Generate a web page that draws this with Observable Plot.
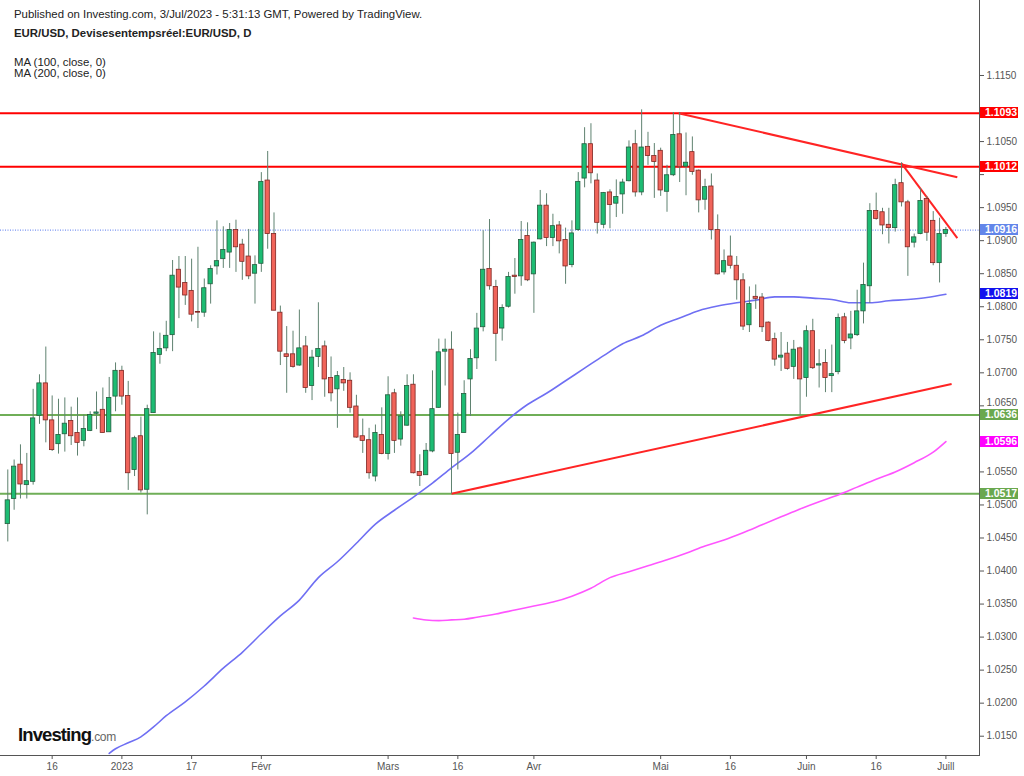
<!DOCTYPE html>
<html><head><meta charset="utf-8">
<script src="https://cdn.jsdelivr.net/npm/d3@7"></script>
<script src="https://cdn.jsdelivr.net/npm/@observablehq/plot@0.6"></script>
<style>
body{margin:0;background:#fff;font-family:"Liberation Sans",Arial,sans-serif;}
#wrap{position:relative;width:1024px;height:776px;overflow:hidden;background:#fff;}
#chart svg{display:block;}
.hdr{position:absolute;left:14px;color:#222;font-size:11.4px;white-space:nowrap;line-height:11px;}
.box{position:absolute;left:980px;width:38px;height:11px;line-height:11px;font-size:10.5px;font-weight:bold;color:#fff;padding-left:5px;box-sizing:border-box;}
#logo{position:absolute;left:18px;top:724px;font-size:18.5px;font-weight:bold;color:#111;letter-spacing:-0.9px;}
#logo span{font-size:12px;font-weight:normal;color:#666;letter-spacing:-0.3px;}
</style></head><body>
<div id="wrap">
<div id="chart"></div>
<div class="hdr" style="top:9px">Published on Investing.com, 3/Jul/2023 - 5:31:13 GMT, Powered by TradingView.</div>
<div class="hdr" style="top:28px;font-weight:bold">EUR/USD, Devisesentempsréel:EUR/USD, D</div>
<div class="hdr" style="top:57px">MA (100, close, 0)</div>
<div class="hdr" style="top:68px">MA (200, close, 0)</div>
<div id="logo">Investing<span>.com</span></div>
</div>
<script>
// ---- data (daily candles, first bar 7 Dec 2022) ----
const startDate = "2022-12-07";
const open  = [1.0471,1.0509,1.0561,1.0530,1.0535,1.0635,1.0684,1.0628,1.0592,1.0607,1.0627,1.0609,1.0597,1.0612,1.0638,1.0644,1.0610,1.0664,1.0703,1.0665,1.0553,1.0604,1.0523,1.0639,1.0727,1.0737,1.0757,1.0856,1.0836,1.0824,1.0792,1.0791,1.0834,1.0861,1.0872,1.0882,1.0916,1.0894,1.0876,1.0850,1.0865,1.0991,1.0910,1.0791,1.0728,1.0728,1.0711,1.0740,1.0680,1.0724,1.0740,1.0692,1.0675,1.0689,1.0688,1.0649,1.0604,1.0598,1.0543,1.0606,1.0577,1.0669,1.0599,1.0620,1.0682,1.0550,1.0545,1.0581,1.0647,1.0732,1.0735,1.0579,1.0609,1.0690,1.0722,1.0769,1.0857,1.0830,1.0767,1.0800,1.0847,1.0846,1.0907,1.0849,1.0902,1.0953,1.0904,1.0923,1.0901,1.0863,1.0916,1.0994,1.1046,1.0991,1.0924,1.0973,1.0956,1.0970,1.0990,1.1046,1.0973,1.1042,1.1028,1.1036,1.0974,1.0999,1.1061,1.1012,1.1034,1.1006,1.0962,1.0982,1.0916,1.0852,1.0876,1.0862,1.0840,1.0772,1.0815,1.0814,1.0776,1.0751,1.0723,1.0729,1.0709,1.0737,1.0692,1.0763,1.0711,1.0715,1.0695,1.0701,1.0784,1.0752,1.0757,1.0793,1.0831,1.0945,1.0943,1.0924,1.0919,1.0987,1.0958,1.0897,1.0910,1.0963,1.0930,1.0866,1.0910];
const high  = [1.0553,1.0568,1.0591,1.0578,1.0675,1.0697,1.0739,1.0665,1.0660,1.0662,1.0648,1.0662,1.0636,1.0641,1.0671,1.0677,1.0693,1.0715,1.0710,1.0687,1.0604,1.0633,1.0651,1.0762,1.0760,1.0778,1.0870,1.0876,1.0876,1.0872,1.0890,1.0842,1.0862,1.0930,1.0921,1.0926,1.0931,1.0902,1.0917,1.0877,1.1003,1.1035,1.0942,1.0801,1.0770,1.0763,1.0795,1.0755,1.0734,1.0806,1.0748,1.0724,1.0702,1.0708,1.0700,1.0666,1.0630,1.0616,1.0621,1.0647,1.0694,1.0675,1.0641,1.0697,1.0697,1.0576,1.0593,1.0703,1.0751,1.0751,1.0762,1.0639,1.0688,1.0735,1.0790,1.0915,1.0932,1.0840,1.0803,1.0852,1.0873,1.0929,1.0927,1.0898,1.0976,1.0971,1.0940,1.0929,1.0919,1.0930,1.1003,1.1071,1.1077,1.1001,1.0973,1.0977,1.0992,1.0993,1.1051,1.1067,1.1098,1.1064,1.1047,1.1040,1.1014,1.1094,1.1094,1.1063,1.1057,1.1007,1.0993,1.1001,1.0939,1.0886,1.0907,1.0876,1.0850,1.0830,1.0833,1.0820,1.0777,1.0760,1.0761,1.0746,1.0749,1.0739,1.0771,1.0781,1.0735,1.0735,1.0742,1.0789,1.0790,1.0793,1.0825,1.0866,1.0956,1.0972,1.0949,1.0949,1.0993,1.1018,1.0961,1.0910,1.0979,1.0967,1.0944,1.0934,1.0920];
const low   = [1.0444,1.0492,1.0509,1.0509,1.0530,1.0622,1.0594,1.0581,1.0577,1.0580,1.0590,1.0574,1.0588,1.0611,1.0614,1.0609,1.0610,1.0641,1.0651,1.0522,1.0543,1.0518,1.0485,1.0639,1.0713,1.0732,1.0732,1.0782,1.0802,1.0777,1.0767,1.0784,1.0804,1.0848,1.0858,1.0858,1.0852,1.0840,1.0841,1.0804,1.0852,1.0887,1.0794,1.0711,1.0669,1.0707,1.0710,1.0669,1.0658,1.0708,1.0663,1.0656,1.0616,1.0672,1.0639,1.0601,1.0578,1.0539,1.0535,1.0576,1.0568,1.0578,1.0589,1.0619,1.0547,1.0528,1.0545,1.0579,1.0646,1.0680,1.0517,1.0553,1.0609,1.0634,1.0705,1.0762,1.0825,1.0717,1.0748,1.0798,1.0819,1.0831,1.0838,1.0790,1.0901,1.0891,1.0891,1.0880,1.0834,1.0859,1.0914,1.0980,1.0986,1.0910,1.0918,1.0918,1.0935,1.0940,1.0989,1.0966,1.0968,1.1014,1.0964,1.0967,1.0943,1.0997,1.0988,1.0968,1.0999,1.0942,1.0946,1.0901,1.0848,1.0848,1.0857,1.0810,1.0764,1.0761,1.0796,1.0761,1.0747,1.0710,1.0702,1.0704,1.0690,1.0636,1.0663,1.0705,1.0677,1.0670,1.0670,1.0697,1.0744,1.0735,1.0755,1.0774,1.0805,1.0931,1.0909,1.0895,1.0913,1.0951,1.0846,1.0889,1.0909,1.0899,1.0862,1.0836,1.0905];
const close = [1.0507,1.0558,1.0531,1.0536,1.0631,1.0684,1.0628,1.0583,1.0606,1.0623,1.0604,1.0594,1.0615,1.0636,1.0640,1.0609,1.0662,1.0703,1.0664,1.0548,1.0601,1.0522,1.0645,1.0730,1.0736,1.0756,1.0847,1.0829,1.0817,1.0788,1.0791,1.0828,1.0857,1.0869,1.0886,1.0916,1.0890,1.0868,1.0846,1.0863,1.0989,1.0910,1.0794,1.0732,1.0724,1.0709,1.0737,1.0677,1.0723,1.0736,1.0690,1.0669,1.0695,1.0684,1.0647,1.0602,1.0597,1.0548,1.0609,1.0577,1.0666,1.0597,1.0634,1.0680,1.0548,1.0544,1.0582,1.0645,1.0731,1.0735,1.0577,1.0606,1.0668,1.0721,1.0767,1.0856,1.0831,1.0759,1.0798,1.0845,1.0845,1.0901,1.0840,1.0897,1.0953,1.0904,1.0922,1.0899,1.0861,1.0911,1.0989,1.1046,1.1002,1.0927,1.0972,1.0954,1.0966,1.0988,1.1041,1.0973,1.1041,1.1028,1.1019,1.0976,1.0999,1.1060,1.1011,1.1018,1.1004,1.0961,1.0981,1.0916,1.0849,1.0869,1.0862,1.0840,1.0770,1.0804,1.0812,1.0769,1.0748,1.0720,1.0726,1.0706,1.0735,1.0690,1.0763,1.0707,1.0713,1.0692,1.0698,1.0783,1.0748,1.0758,1.0793,1.0833,1.0945,1.0933,1.0923,1.0919,1.0984,1.0958,1.0890,1.0905,1.0960,1.0912,1.0866,1.0910,1.0916];

// moving averages (bar index, value)
const ma100Idx = [16,17,19,21,23,25,28,31,34,37,40,43,46,49,52,55,58,61,64,67,70,73,76,79,82,85,88,91,94,97,100,103,106,109,112,115,118,121,124,127,130,133,136,139,142,145,148];
const ma100Val = [1.0124,1.0131,1.0140,1.0149,1.0164,1.0181,1.0202,1.0226,1.0253,1.0277,1.0305,1.0332,1.0356,1.0390,1.0414,1.0442,1.0471,1.0492,1.0512,1.0533,1.0556,1.0578,1.0604,1.0630,1.0652,1.0669,1.0688,1.0707,1.0726,1.0744,1.0756,1.0772,1.0783,1.0794,1.0801,1.0806,1.0810,1.0815,1.0815,1.0813,1.0811,1.0806,1.0806,1.0809,1.0811,1.0814,1.0819];
const ma200Idx = [64,66,68,70,72,74,77,80,83,86,89,92,95,98,101,104,107,110,113,116,119,122,125,128,131,134,137,140,143,146,148];
const ma200Val = [1.0329,1.0326,1.0325,1.0326,1.0327,1.0330,1.0335,1.0341,1.0347,1.0353,1.0362,1.0374,1.0390,1.0399,1.0408,1.0417,1.0427,1.0438,1.0447,1.0458,1.0470,1.0482,1.0494,1.0505,1.0515,1.0527,1.0539,1.0550,1.0564,1.0580,1.0596];

// horizontal levels & trend lines
const levelVals   = [1.1093, 1.1012, 1.0636, 1.0517];
const levelColors = ["#ff0000", "#ff0000", "#6fae57", "#6fae57"];
const trendFromIdx = [105.8, 141.0, 70.0];
const trendFromVal = [1.1093, 1.1017, 1.0517];
const trendToIdx   = [149.8, 149.8, 148.9];
const trendToVal   = [1.0996, 1.0904, 1.0683];

// axis ticks
const tickDates  = ["2022-12-16","2023-01-02","2023-01-17","2023-02-01","2023-03-01","2023-03-16","2023-04-03","2023-05-01","2023-05-16","2023-06-01","2023-06-16","2023-07-03"];
const tickLabels = ["16","2023","17","Févr","Mars","16","Avr","Mai","16","Juin","16","Juill"];
const yTickVals = [1.0150,1.0200,1.0250,1.0300,1.0350,1.0400,1.0450,1.0500,1.0550,1.0600,1.0650,1.0700,1.0750,1.0800,1.0850,1.0900,1.0950,1.1000,1.1050,1.1100,1.1150];
const yHidden = [1.1100, 1.1000, 1.0600];   // covered by the price labels
const yRaised = [1.0650];                  // drawn slightly higher, above the 1.0636 label

// ---- build ----
const dates = [];
{
  let d = new Date(startDate + "T00:00:00Z");
  while (dates.length < open.length) {
    const wd = d.getUTCDay();
    if (wd !== 0 && wd !== 6) dates.push(d.toISOString().slice(0,10));
    d = new Date(d.getTime() + 86400000);
  }
}
const tickIdx = tickDates.map(t => dates.indexOf(t));
const labelOf = new Map(tickIdx.map((k, j) => [k, tickLabels[j]]));
const isIn = (arr, v) => arr.some(h => Math.abs(h - v) < 1e-6);

const candles = open.map((o, i) => ({i, o, h: high[i], l: low[i], c: close[i], up: close[i] >= o}));
const ma100 = ma100Idx.map((k, j) => ({i: k, v: ma100Val[j]}));
const ma200 = ma200Idx.map((k, j) => ({i: k, v: ma200Val[j]}));
const levels = levelVals.map((v, j) => ({v, color: levelColors[j]}));
const trends = trendFromIdx.map((k, j) => ({x1: k, y1: trendFromVal[j], x2: trendToIdx[j], y2: trendToVal[j]}));
const last = close[close.length - 1];

const plot = Plot.plot({
  width: 1024, height: 776,
  marginTop: 0, marginLeft: 0, marginRight: 45, marginBottom: 21,
  style: {fontFamily: "'Liberation Sans', Arial, sans-serif", fontSize: "10px", color: "#555", background: "transparent"},
  color: {type: "identity"},
  x: {type: "linear", domain: [-1.15, 153.3], ticks: tickIdx, tickFormat: k => labelOf.get(k) ?? "", tickSize: 4, tickPadding: 3, line: true, label: null},
  y: {type: "linear", domain: [1.01208, 1.12635], axis: "right", ticks: yTickVals,
      tickFormat: v => (isIn(yHidden, v) || isIn(yRaised, v)) ? "" : v.toFixed(4), tickSize: 4, tickPadding: 3, line: true, label: null},
  marks: [
    Plot.ruleY(levels, {y: "v", stroke: "color", strokeWidth: 2}),
    Plot.ruleY([last], {stroke: "#5577ee", strokeWidth: 1, strokeDasharray: "1,1.5"}),
    Plot.line(ma100, {x: "i", y: "v", stroke: "#6f6ff3", strokeWidth: 1.6, curve: "monotone-x"}),
    Plot.line(ma200, {x: "i", y: "v", stroke: "#ff55ff", strokeWidth: 1.6, curve: "monotone-x"}),
    Plot.link(trends, {x1: "x1", y1: "y1", x2: "x2", y2: "y2", stroke: "#ff2424", strokeWidth: 2}),
    Plot.ruleX(candles, {x: "i", y1: "l", y2: "h", stroke: "#5f8270", strokeWidth: 1}),
    Plot.rect(candles, {x1: d => d.i - 0.34, x2: d => d.i + 0.34, y1: "o", y2: "c",
      fill: d => d.up ? "#1dbc73" : "#f0645a", stroke: d => d.up ? "#235c3e" : "#7f2622", strokeWidth: 0.8}),
    Plot.text(yRaised, {y: d => d, frameAnchor: "right", dx: 7, dy: -3.5, textAnchor: "start",
      text: d => d.toFixed(4), fill: "#555", fontSize: 10})
  ]
});
document.getElementById("chart").appendChild(plot);

// price labels on the right scale
const ys = plot.scale("y");
const boxes = [
  {v: levelVals[0], bg: "#ff0000"}, {v: levelVals[1], bg: "#ff0000"},
  {v: last, bg: "#6386ea"}, {v: ma100Val[ma100Val.length - 1], bg: "#1212ee"},
  {v: levelVals[2], bg: "#6aa84f"}, {v: ma200Val[ma200Val.length - 1], bg: "#ff00ff"},
  {v: levelVals[3], bg: "#6aa84f"}
];
const wrap = document.getElementById("wrap");
for (const b of boxes) {
  const el = document.createElement("div");
  el.className = "box";
  el.style.background = b.bg;
  el.style.top = (ys.apply(b.v) - 5.5) + "px";
  el.textContent = b.v.toFixed(4);
  wrap.appendChild(el);
}
</script>
</body></html>
